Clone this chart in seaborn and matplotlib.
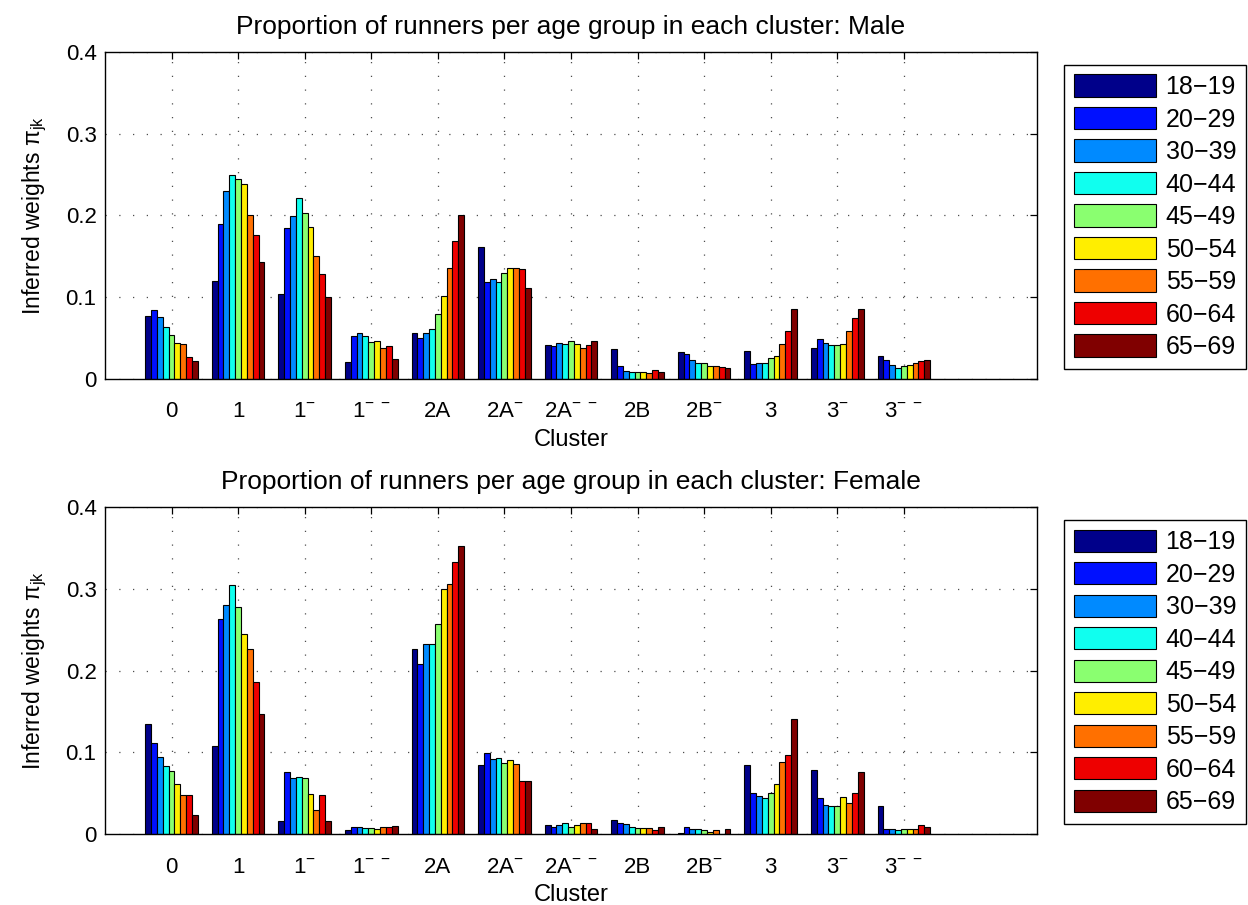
import numpy as np
import pandas as pd
import matplotlib
matplotlib.use("Agg")
import matplotlib.pyplot as plt
import seaborn as sns
from matplotlib.patches import Patch

# ---------------- data ----------------
clusters = ["0", "1", "1-", "1--", "2A", "2A-", "2A--", "2B", "2B-", "3", "3-", "3--"]
cluster_labels = ["0", "1", "1$^{-}$", "1$^{-\\ -}$", "2A", "2A$^{-}$", "2A$^{-\\ -}$",
                  "2B", "2B$^{-}$", "3", "3$^{-}$", "3$^{-\\ -}$"]
age_groups = ["18\u221219", "20\u221229", "30\u221239", "40\u221244", "45\u221249",
              "50\u221254", "55\u221259", "60\u221264", "65\u221269"]

# rows: clusters, columns: age groups
male_weights = [
    [0.077, 0.084, 0.076, 0.064, 0.054, 0.044, 0.043, 0.027, 0.022],
    [0.120, 0.190, 0.230, 0.249, 0.244, 0.238, 0.201, 0.176, 0.143],
    [0.104, 0.184, 0.199, 0.221, 0.203, 0.186, 0.150, 0.128, 0.100],
    [0.021, 0.052, 0.056, 0.053, 0.045, 0.046, 0.038, 0.040, 0.025],
    [0.056, 0.050, 0.056, 0.061, 0.079, 0.101, 0.136, 0.169, 0.201],
    [0.161, 0.119, 0.122, 0.118, 0.130, 0.136, 0.136, 0.134, 0.111],
    [0.042, 0.040, 0.044, 0.043, 0.046, 0.043, 0.038, 0.041, 0.046],
    [0.037, 0.016, 0.010, 0.009, 0.008, 0.009, 0.007, 0.011, 0.009],
    [0.033, 0.031, 0.023, 0.020, 0.019, 0.016, 0.016, 0.015, 0.013],
    [0.034, 0.018, 0.019, 0.019, 0.026, 0.028, 0.043, 0.059, 0.085],
    [0.038, 0.049, 0.044, 0.042, 0.041, 0.043, 0.059, 0.075, 0.085],
    [0.028, 0.023, 0.017, 0.014, 0.016, 0.017, 0.020, 0.022, 0.023],
]
female_weights = [
    [0.135, 0.111, 0.095, 0.084, 0.077, 0.062, 0.048, 0.048, 0.023],
    [0.108, 0.263, 0.280, 0.305, 0.278, 0.245, 0.226, 0.186, 0.147],
    [0.016, 0.076, 0.069, 0.070, 0.069, 0.049, 0.030, 0.048, 0.016],
    [0.005, 0.009, 0.009, 0.008, 0.008, 0.006, 0.009, 0.009, 0.010],
    [0.226, 0.208, 0.232, 0.232, 0.257, 0.300, 0.306, 0.332, 0.352],
    [0.085, 0.099, 0.092, 0.093, 0.087, 0.091, 0.086, 0.065, 0.065],
    [0.011, 0.009, 0.011, 0.014, 0.009, 0.011, 0.014, 0.014, 0.007],
    [0.018, 0.014, 0.012, 0.009, 0.008, 0.008, 0.008, 0.005, 0.009],
    [0.002, 0.009, 0.007, 0.006, 0.005, 0.003, 0.005, 0.001, 0.007],
    [0.085, 0.050, 0.047, 0.044, 0.050, 0.061, 0.088, 0.097, 0.141],
    [0.078, 0.044, 0.036, 0.034, 0.034, 0.046, 0.038, 0.050, 0.076],
    [0.034, 0.007, 0.007, 0.005, 0.007, 0.007, 0.006, 0.011, 0.009],
]

# ---------------- style ----------------
age_colors = ["#00008A", "#0010FF", "#008AFF", "#10FFEF", "#8AFF70",
              "#FFEE00", "#FF7000", "#EE0000", "#800000"]

sns.set_theme(style="white")
plt.rcParams["font.family"] = ["Liberation Sans", "DejaVu Sans"]
plt.rcParams["mathtext.fontset"] = "custom"
plt.rcParams["mathtext.rm"] = "Liberation Sans"
plt.rcParams["mathtext.it"] = "Liberation Sans:italic"
plt.rcParams["mathtext.bf"] = "Liberation Sans:bold"
plt.rcParams["text.color"] = "black"
plt.rcParams["axes.labelcolor"] = "black"
plt.rcParams["axes.titlecolor"] = "black"
plt.rcParams["xtick.color"] = "black"
plt.rcParams["ytick.color"] = "black"

fig = plt.figure(figsize=(12.48, 9.05), dpi=100)
ax_top = fig.add_axes([0.0841, 0.5812, 0.7468, 0.3617])
ax_bot = fig.add_axes([0.0841, 0.0781, 0.7468, 0.3620])


def draw(ax, data, title, legend_anchor):
    rows = [(clusters[i], age_groups[j], data[i][j])
            for i in range(len(clusters)) for j in range(len(age_groups))]
    df = pd.DataFrame(rows, columns=["Cluster", "Age", "w"])
    sns.barplot(data=df, x="Cluster", y="w", hue="Age", order=clusters,
                hue_order=age_groups, palette=age_colors, width=0.79,
                saturation=1, edgecolor="black", linewidth=0.8,
                errorbar=None, legend=False, ax=ax)
    ax.set_xlim(-1, 13)
    ax.set_ylim(0, 0.4)
    ax.set_xticks(range(len(clusters)))
    ax.set_xticklabels(cluster_labels)
    ax.set_yticks([0, 0.1, 0.2, 0.3, 0.4])
    ax.set_yticklabels(["0", "0.1", "0.2", "0.3", "0.4"])
    ax.set_axisbelow(True)
    ax.grid(True, linestyle=(0, (1, 10)), color="0.3", linewidth=0.9)
    ax.tick_params(direction="in", length=5, width=0.9, top=True, right=True,
                   labelsize=16, colors="black")
    ax.tick_params(axis="x", pad=16)
    ax.tick_params(axis="y", pad=6)
    for s in ax.spines.values():
        s.set_color("black")
        s.set_linewidth(1.0)
        s.set_visible(True)
    ax.set_xlabel("Cluster", fontsize=17, labelpad=5, color="black")
    ax.set_ylabel("Inferred weights $\\mathrm{\\pi}_{\\mathrm{jk}}$", fontsize=16.5,
                  labelpad=12, color="black")
    ax.set_title(title, fontsize=19, pad=13, color="black")
    handles = [Patch(facecolor=c, edgecolor="black", linewidth=0.8) for c in age_colors]
    leg = fig.legend(handles, age_groups, loc="upper left",
                     bbox_to_anchor=legend_anchor, bbox_transform=fig.transFigure,
                     borderaxespad=0, frameon=True, fancybox=False,
                     edgecolor="black", framealpha=1, fontsize=18,
                     handlelength=3.3, handleheight=1.0, handletextpad=0.38,
                     labelspacing=0.31, borderpad=0.38)
    leg.get_frame().set_linewidth(1.0)
    for t in leg.get_texts():
        t.set_color("black")


draw(ax_top, male_weights, "Proportion of runners per age group in each cluster: Male",
     (0.8526, 0.9282))
draw(ax_bot, female_weights, "Proportion of runners per age group in each cluster: Female",
     (0.8526, 0.4254))

fig.savefig("out.png", dpi=100)
